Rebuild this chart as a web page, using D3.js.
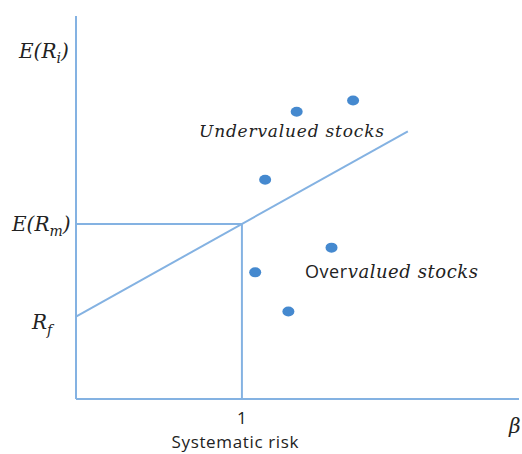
<!DOCTYPE html>
<html>
<head>
<meta charset="utf-8">
<script src="https://cdn.jsdelivr.net/npm/d3@7"></script>
<style>
  body { margin: 0; background: #fff; }
  .math { font-family: 'DejaVu Serif', serif; font-style: italic; fill: #222; }
  .sans { font-family: 'Open Sans', 'Liberation Sans', sans-serif; fill: #222; }
</style>
</head>
<body>
<svg id="chart" width="522" height="454"></svg>
<script>
// market figures (beta, expected return in %)
const riskFree = 4
const marketReturn = 8.5
const smlBetas = [0, 2]
const xMax = 2.67
const yMax = 18.6

// stocks scattered around the SML
const stockBetas = [1.33, 1.67, 1.14, 1.54, 1.08, 1.28]
const stockReturns = [13.95, 14.5, 10.65, 7.35, 6.15, 4.25]

const lineColor = '#84b2e2'
const dotColor = '#4589cf'

const svg = d3.select('#chart')
const xScale = d3.scaleLinear().domain([0, xMax]).range([76, 519])
const yScale = d3.scaleLinear().domain([0, yMax]).range([399, 16])

/**
 * Security market line: E(R) = Rf + beta * (E(Rm) - Rf)
 *
 * @param {number} b The beta
 */
function sml (b) {
  return riskFree + b * (marketReturn - riskFree)
}

// axes, drawn as plain lines
svg.append('line')
  .attr('x1', xScale(0)).attr('x2', xScale(0))
  .attr('y1', yScale(yMax)).attr('y2', yScale(0))
  .attr('stroke', lineColor).attr('stroke-width', 2)
svg.append('line')
  .attr('x1', xScale(0)).attr('x2', xScale(xMax))
  .attr('y1', yScale(0)).attr('y2', yScale(0))
  .attr('stroke', lineColor).attr('stroke-width', 2)

// market guide lines
svg.append('line')
  .attr('x1', xScale(0)).attr('x2', xScale(1))
  .attr('y1', yScale(marketReturn)).attr('y2', yScale(marketReturn))
  .attr('stroke', lineColor).attr('stroke-width', 2)
svg.append('line')
  .attr('x1', xScale(1)).attr('x2', xScale(1))
  .attr('y1', yScale(marketReturn)).attr('y2', yScale(0))
  .attr('stroke', lineColor).attr('stroke-width', 2)

// SML
svg.append('path')
  .datum(smlBetas)
  .attr('d', d3.line().x(b => xScale(b)).y(b => yScale(sml(b))))
  .attr('fill', 'none')
  .attr('stroke', lineColor)
  .attr('stroke-width', 2)

// stocks
svg.selectAll('ellipse.stock')
  .data(stockBetas)
  .enter()
  .append('ellipse')
  .attr('class', 'stock')
  .attr('cx', d => xScale(d))
  .attr('cy', (d, i) => yScale(stockReturns[i]))
  .attr('rx', 6)
  .attr('ry', 5)
  .attr('fill', dotColor)

// y labels
const eri = svg.append('text').attr('class', 'math').attr('x', 19).attr('y', 58).style('font-size', '20px')
eri.append('tspan').text('E(R')
eri.append('tspan').attr('dy', 5).style('font-size', '14px').text('i')
eri.append('tspan').attr('dy', -5).text(')')

const erm = svg.append('text').attr('class', 'math').attr('x', 12).attr('y', yScale(marketReturn) + 7).style('font-size', '20px')
erm.append('tspan').text('E(R')
erm.append('tspan').attr('dy', 5).style('font-size', '14px').text('m')
erm.append('tspan').attr('dy', -5).text(')')

const rf = svg.append('text').attr('class', 'math').attr('x', 32).attr('y', yScale(riskFree) + 12).style('font-size', '20px')
rf.append('tspan').text('R')
rf.append('tspan').attr('dy', 6).style('font-size', '14px').text('f')

// region labels
svg.append('text').attr('class', 'math')
  .attr('x', 199).attr('y', 137)
  .attr('textLength', 185)
  .style('font-size', '17px')
  .text('Undervalued stocks')

const over = svg.append('text').attr('x', 305).attr('y', 278)
  .attr('textLength', 173)
  .style('font-size', '18px')
over.append('tspan').attr('class', 'sans').text('Over')
over.append('tspan').attr('class', 'math').text('valued stocks')

// x labels
svg.append('text').attr('class', 'sans')
  .attr('x', xScale(1)).attr('y', 424)
  .attr('text-anchor', 'middle')
  .style('font-size', '17px')
  .text('1')
svg.append('text').attr('class', 'sans')
  .attr('x', 235).attr('y', 448)
  .attr('text-anchor', 'middle')
  .attr('textLength', 127)
  .style('font-size', '17px')
  .text('Systematic risk')
svg.append('text').attr('class', 'math')
  .attr('x', 509).attr('y', 433)
  .style('font-size', '20px')
  .text('β')
</script>
</body>
</html>
